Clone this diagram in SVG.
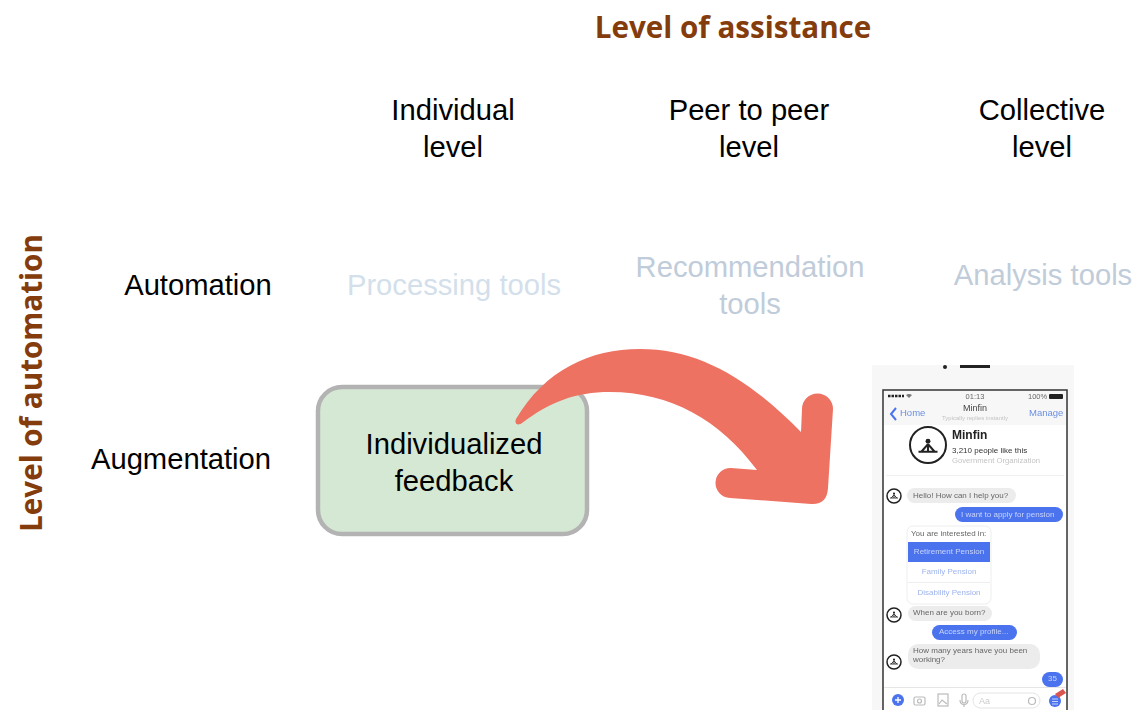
<svg xmlns="http://www.w3.org/2000/svg" width="1137" height="710" viewBox="0 0 1137 710">
<style>
text{font-family:"Liberation Sans",Arial,sans-serif}
.l{font-size:29.200px;fill:#000;text-anchor:middle}
.f{font-size:29.200px;fill:#c0ccd9;text-anchor:middle}
.h{font-family:"Open Sans","Liberation Sans",sans-serif;font-size:29.600px;font-weight:700;fill:#843c0c;text-anchor:middle}
.b{fill:#ececec}.u{fill:#4b73ee}
.t{font-size:8px;fill:#666}.w{font-size:8px;fill:#c9d4fb}.o{font-size:8px;fill:#9db3ec;text-anchor:middle}
.av{fill:#fff;stroke:#222;stroke-width:1.5}
.ic{fill:none;stroke:#bbb;stroke-width:1.2}
</style>
<defs><filter id="soft" x="-2%" y="-2%" width="104%" height="104%"><feGaussianBlur stdDeviation="0.55"/></filter>
<g id="man"><circle r="1.3" cy="-3" fill="#222"/><path d="M-5 2.500H5M0-1.500L-3.500 2.500M0-1.500L3.500 2.500M0-1.500V2.500" stroke="#222" stroke-width="1.100" fill="none"/></g></defs>
<g id="axis-x"><text class="h" x="733" y="38">Level of assistance</text></g>
<g id="axis-y"><text class="h" transform="translate(42 383) rotate(-90)">Level of automation</text></g>
<g id="col-individual"><text class="l" x="453" y="119.500">Individual</text><text class="l" x="453" y="156.500">level</text></g>
<g id="col-peer"><text class="l" x="749" y="119.500">Peer to peer</text><text class="l" x="749" y="156.500">level</text></g>
<g id="col-collective"><text class="l" x="1042" y="119.500">Collective</text><text class="l" x="1042" y="156.500">level</text></g>
<g id="row-automation"><text class="l" x="198" y="294.500">Automation</text></g>
<g id="row-augmentation"><text class="l" x="181" y="468.500">Augmentation</text></g>
<g id="processing"><text class="f" x="454" y="294.500" style="fill:#d3dfeb">Processing tools</text></g>
<g id="recommendation"><text class="f" x="750" y="276.500">Recommendation</text><text class="f" x="750" y="313.500">tools</text></g>
<g id="analysis"><text class="f" x="1043" y="284.500">Analysis tools</text></g>
<g id="feedback"><rect x="318" y="387" width="269" height="147" rx="24" fill="#d5e8d4" stroke="#b3b3b3" stroke-width="4.500"/><text class="l" x="454" y="453.500">Individualized</text><text class="l" x="454" y="490.500">feedback</text></g>
<g id="connectors"><path d="M516 419C545 370 590 349 640 349C700 349 750 380 801 432L802 409A15.500 15.500 0 0 1 833 409L828 488Q827 505 811 504L730 498A15 15 0 0 1 731 468L757 470C720 420 670 392 610 392C575 392 550 402 522 423C518 426 514 424 516 419Z" fill="#ee7262"/></g>
<g id="phone" filter="url(#soft)">
<rect x="872" y="365" width="202" height="345" fill="#f7f7f7"/>
<circle cx="945" cy="367" r="2" fill="#222"/><rect x="960" y="365" width="30" height="3" fill="#222"/>
<rect x="883" y="390" width="184" height="322" fill="#fff" stroke="#333" stroke-width="1.500"/>
<rect x="884" y="391" width="182" height="34" fill="#f7f7f7"/>
<path d="M888 396H904" stroke="#222" stroke-width="2.500" stroke-dasharray="2.500 1"/><path d="M906 395Q909 393 912 395L909 398Z" fill="#777"/>
<text x="975" y="399" font-size="7.500" fill="#666" text-anchor="middle">01:13</text>
<text x="1028" y="399" font-size="7.500" fill="#666">100%</text><rect x="1049" y="394" width="14" height="5" rx="1" fill="#222"/>
<path d="M896 408L891 414L896 420" fill="none" stroke="#4b73ee" stroke-width="2"/>
<text x="900" y="416" font-size="9.500" fill="#6b8fe0">Home</text>
<text x="975" y="411" font-size="9" fill="#444" text-anchor="middle">Minfin</text>
<text x="975" y="420" font-size="6" fill="#c4c4c4" text-anchor="middle">Typically replies instantly</text>
<text x="1029" y="416" font-size="9.500" fill="#6b8fe0">Manage</text>
<circle cx="928" cy="445" r="18" fill="#fff" stroke="#222" stroke-width="2"/><use href="#man" transform="translate(928 447) scale(1.900)"/>
<text x="952" y="439" font-size="12" font-weight="700" fill="#222">Minfin</text>
<text x="952" y="453" font-size="8" fill="#333">3,210 people like this</text>
<text x="952" y="463" font-size="7.700" fill="#c4c4c4">Government Organization</text>
<rect x="886" y="475" width="178" height="1" fill="#f0f0f0"/>
<circle class="av" cx="894" cy="496" r="7"/><use href="#man" transform="translate(894 496) scale(.8)"/>
<rect class="b" x="907" y="488" width="109" height="15" rx="7.500"/><text class="t" x="913" y="498">Hello! How can I help you?</text>
<rect class="u" x="955" y="507" width="108" height="15" rx="7.500"/><text class="w" x="961" y="517">I want to apply for pension</text>
<rect x="907" y="526" width="84" height="78" rx="6" fill="#fff" stroke="#eee"/>
<text class="t" x="911" y="536">You are interested in:</text>
<rect class="u" x="908" y="542" width="82" height="20"/><text class="o" x="949" y="554" style="fill:#c9d4fb">Retirement Pension</text>
<text class="o" x="949" y="574">Family Pension</text><rect x="908" y="582" width="82" height="1" fill="#eee"/>
<text class="o" x="949" y="595">Disability Pension</text>
<circle class="av" cx="894" cy="615" r="7"/><use href="#man" transform="translate(894 615) scale(.8)"/>
<rect class="b" x="908" y="606" width="84" height="15" rx="7.500"/><text class="t" x="913" y="615">When are you born?</text>
<rect class="u" x="932" y="625" width="85" height="15" rx="7.500"/><text class="w" x="939" y="634">Access my profile...</text>
<circle class="av" cx="894" cy="662" r="7"/><use href="#man" transform="translate(894 662) scale(.8)"/>
<rect class="b" x="908" y="644" width="132" height="25" rx="10"/><text class="t" x="913" y="653">How many years have you been</text><text class="t" x="913" y="662">working?</text>
<rect class="u" x="1042" y="672" width="21" height="15" rx="7.500"/><text class="w" x="1048" y="681">35</text>
<rect x="884" y="687" width="182" height="1" fill="#e6e6e6"/>
<circle class="u" cx="898" cy="700" r="6"/><path d="M895 700H901M898 697V703" stroke="#fff" stroke-width="1.300"/>
<rect class="ic" x="914" y="697" width="11" height="8" rx="1.500"/><circle class="ic" cx="919.500" cy="701" r="2"/>
<rect class="ic" x="938" y="694" width="10" height="12"/><path class="ic" d="M939 704L942 700L947 704"/>
<rect class="ic" x="962" y="694" width="4" height="9" rx="2"/><path class="ic" d="M960 700C960 706 968 706 968 700M964 704V707"/>
<rect x="973" y="693" width="67" height="15" rx="7.500" fill="#fff" stroke="#e4e4e4"/><text x="979" y="704" font-size="9" fill="#ccc">Aa</text><circle class="ic" cx="1032" cy="701" r="3.500"/>
<circle class="u" cx="1055" cy="701" r="6"/><path d="M1052 699H1058M1052 701.500H1058M1052 704H1058" stroke="#c9d4fb"/>
<path d="M1055 694L1063 689L1066 693L1058 698Z" fill="#d9534f"/>
</g>
</svg>
